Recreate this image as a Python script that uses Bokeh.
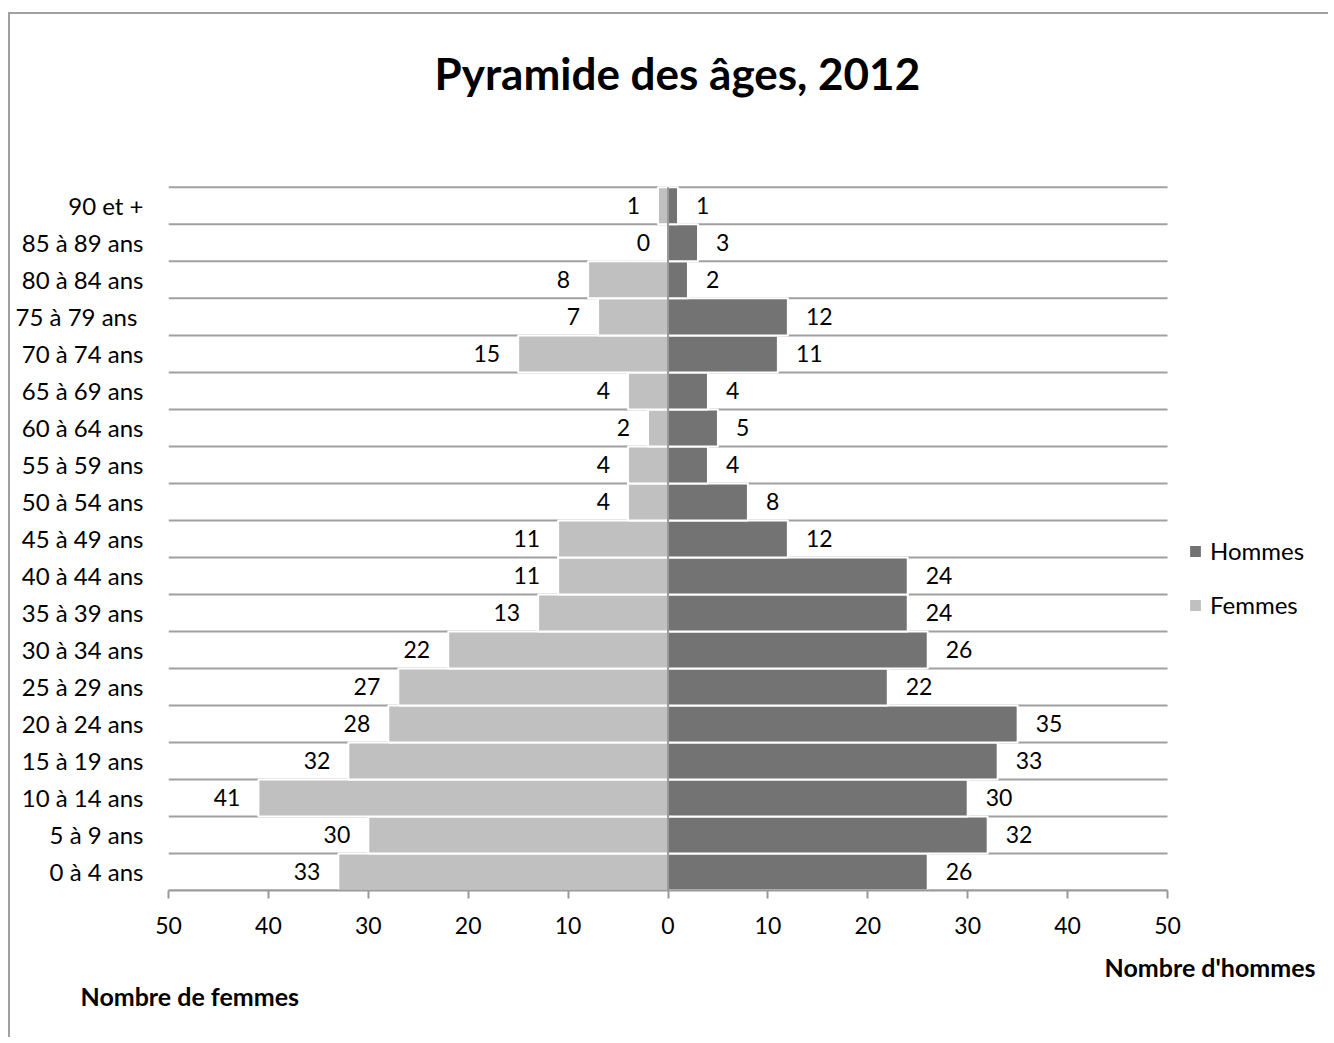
from bokeh.plotting import figure
from bokeh.models import (Range1d, FixedTicker, ColumnDataSource, LabelSet, Title,
                          Legend, LegendItem, Span)
from bokeh.core.properties import value
from bokeh.embed import file_html
from bokeh.resources import INLINE

# ---- data (bottom to top) ----
categories = ["0 à 4 ans", "5 à 9 ans", "10 à 14 ans", "15 à 19 ans", "20 à 24 ans",
              "25 à 29 ans", "30 à 34 ans", "35 à 39 ans", "40 à 44 ans", "45 à 49 ans",
              "50 à 54 ans", "55 à 59 ans", "60 à 64 ans", "65 à 69 ans", "70 à 74 ans",
              "75 à 79 ans ", "80 à 84 ans", "85 à 89 ans", "90 et +"]
femmes = [33, 30, 41, 32, 28, 27, 22, 13, 11, 11, 4, 4, 2, 4, 15, 7, 8, 0, 1]
hommes = [26, 32, 30, 33, 35, 22, 26, 24, 24, 12, 8, 4, 5, 4, 11, 12, 2, 3, 1]
x_ticks = [-50, -40, -30, -20, -10, 0, 10, 20, 30, 40, 50]

FONT = "Lato"
C_F = "#c0c0c0"
C_H = "#737373"
C_LINE = "#a0a0a0"

n = len(categories)
ypos = list(range(n))
bounds = [i - 0.5 for i in range(n + 1)]

src = ColumnDataSource(data=dict(
    y=ypos,
    f_left=[-v for v in femmes],
    h_right=hommes,
    f_txt=[str(v) for v in femmes],
    h_txt=[str(v) for v in hommes],
))

# frame runs to the right edge so the legend can sit inside it; axis is bounded to +-50
FRAME_W = 1320 - 158
X_END = x_ticks[0] + FRAME_W / 9.99

p = figure(width=1320, height=1025, output_backend="svg", toolbar_location=None,
           x_range=Range1d(x_ticks[0], X_END), y_range=Range1d(-0.5, n - 0.45),
           min_border_left=158, min_border_right=0, min_border_top=171,
           min_border_bottom=149)
p.styles = {"margin-left": "8px", "margin-top": "12px",
            "border-left": "2px solid #a0a0a0", "border-top": "2px solid #a0a0a0"}
p.outline_line_color = None
p.background_fill_color = "white"
p.border_fill_color = "white"

# horizontal gridlines between categories, limited to the axis extent
p.xgrid.visible = False
p.ygrid.visible = False
p.segment(x0=[x_ticks[0]] * len(bounds), x1=[x_ticks[-1]] * len(bounds),
          y0=bounds, y1=bounds, line_color=C_LINE, line_width=2, level="underlay")

rf = p.hbar(y="y", left="f_left", right=0, height=1.0, source=src,
            fill_color=C_F, line_color="white", line_width=2)
rh = p.hbar(y="y", left=0, right="h_right", height=1.0, source=src,
            fill_color=C_H, line_color="white", line_width=2)

# zero line (category axis crossing), limited to the category extent
p.segment(x0=[0], x1=[0], y0=[bounds[0]], y1=[bounds[-1]],
          line_color="#9a9a9a", line_width=2)

# axes
xa = p.xaxis[0]
xa.bounds = (x_ticks[0], x_ticks[-1])
xa.ticker = FixedTicker(ticks=x_ticks)
xa.major_label_overrides = {t: str(abs(t)) for t in x_ticks}
xa.axis_line_color = "#9a9a9a"
xa.axis_line_width = 2
xa.major_tick_line_color = "#9a9a9a"
xa.major_tick_line_width = 2
xa.major_tick_out = 8
xa.major_tick_in = 0
xa.minor_tick_line_color = None
xa.major_label_standoff = 18
xa.major_label_text_font = FONT
xa.major_label_text_font_size = "23px"
xa.major_label_text_color = "black"

ya = p.yaxis[0]
ya.ticker = FixedTicker(ticks=ypos)
ya.major_label_overrides = {i: c for i, c in enumerate(categories)}
ya.axis_line_color = None
ya.major_tick_line_color = None
ya.minor_tick_line_color = None
ya.major_label_standoff = 19
ya.major_label_text_font = FONT
ya.major_label_text_font_size = "24px"
ya.major_label_text_color = "black"

# data labels
p.add_layout(LabelSet(x="f_left", y="y", text="f_txt", source=src, x_offset=-18,
                      text_align="right", text_baseline="middle", text_font=value(FONT),
                      text_font_size="23px", text_color="black"))
p.add_layout(LabelSet(x="h_right", y="y", text="h_txt", source=src, x_offset=18,
                      text_align="left", text_baseline="middle", text_font=value(FONT),
                      text_font_size="23px", text_color="black"))

# legend (inside the extended frame, right of the axis)
legend = Legend(items=[LegendItem(label="Hommes", renderers=[rh]),
                       LegendItem(label="Femmes", renderers=[rf])],
                location=(1019, 271), orientation="vertical",
                glyph_width=16, glyph_height=16, spacing=25, padding=0, margin=0,
                label_standoff=7, label_text_font=FONT, label_text_font_size="24px",
                label_text_color="black", background_fill_alpha=0,
                border_line_color=None)
p.add_layout(legend)

# spacer between frame and main title
p.add_layout(Title(text=" ", text_font_size="10px", standoff=69), "above")

# main title
p.title.text = "Pyramide des âges, 2012"
p.title.align = "left"
p.title.offset = 266
p.title.text_font = FONT
p.title.text_font_style = "bold"
p.title.text_font_size = "44px"
p.title.text_color = "black"
p.title.standoff = 10

# axis titles (below panel, stacked under the x axis)
t_h = Title(text="Nombre d'hommes", align="right", offset=15, vertical_align="bottom",
            standoff=26, text_font=FONT, text_font_style="bold", text_font_size="25px",
            text_color="black")
t_f = Title(text="Nombre de femmes", align="left", offset=-88, vertical_align="top",
            standoff=-28, text_font=FONT, text_font_style="bold", text_font_size="25px",
            text_color="black")
p.add_layout(t_h, "below")
p.add_layout(t_f, "below")

open("out.html", "w").write(file_html(p, INLINE))
